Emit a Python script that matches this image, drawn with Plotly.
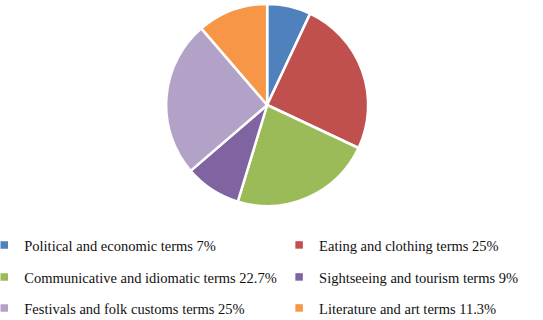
import plotly.graph_objects as go

categories = [
    "Political and economic terms",
    "Eating and clothing terms",
    "Communicative and idiomatic terms",
    "Sightseeing and tourism terms",
    "Festivals and folk customs terms",
    "Literature and art terms",
]
values = [7, 25, 22.7, 9, 25, 11.3]
value_labels = ["7%", "25%", "22.7%", "9%", "25%", "11.3%"]
colors = ["#4F81BD", "#C0504D", "#9BBB59", "#8064A2", "#B3A2C7", "#F79646"]

W, H = 543, 320
fig = go.Figure()
fig.add_trace(go.Pie(
    labels=categories, values=values, sort=False, direction="clockwise",
    rotation=0, textinfo="none", hoverinfo="label+percent", showlegend=False,
    marker=dict(colors=colors, line=dict(color="white", width=2.5)),
    domain=dict(x=[0, 0.984], y=[1 - 206 / H, 1 - 4 / H]),
))

legend_names = ["legend"] + [f"legend{i}" for i in range(2, 7)]
for i, (c, v, col) in enumerate(zip(categories, value_labels, colors)):
    fig.add_trace(go.Scatter(
        x=[None], y=[None], mode="markers", name=f"{c} {v}",
        marker=dict(symbol="square", size=7.5, color=col),
        legend=legend_names[i], showlegend=True, hoverinfo="skip",
    ))

row_y = [245, 277, 308]
col_x = [-0.029, 0.514]
layout_legends = {}
for i, name in enumerate(legend_names):
    layout_legends[name] = dict(
        orientation="h", x=col_x[i % 2], y=1 - row_y[i // 2] / H,
        xanchor="left", yanchor="middle", bgcolor="rgba(0,0,0,0)",
        font=dict(family="Liberation Serif", size=14.5, color="#111111"),
    )

fig.update_layout(
    width=W, height=H, margin=dict(l=0, r=0, t=0, b=0, autoexpand=False),
    paper_bgcolor="white", plot_bgcolor="white",
    xaxis=dict(visible=False), yaxis=dict(visible=False),
    **layout_legends,
)
fig.write_html("out.html", config={"displayModeBar": False},
               post_script="document.body.style.margin='0';")
